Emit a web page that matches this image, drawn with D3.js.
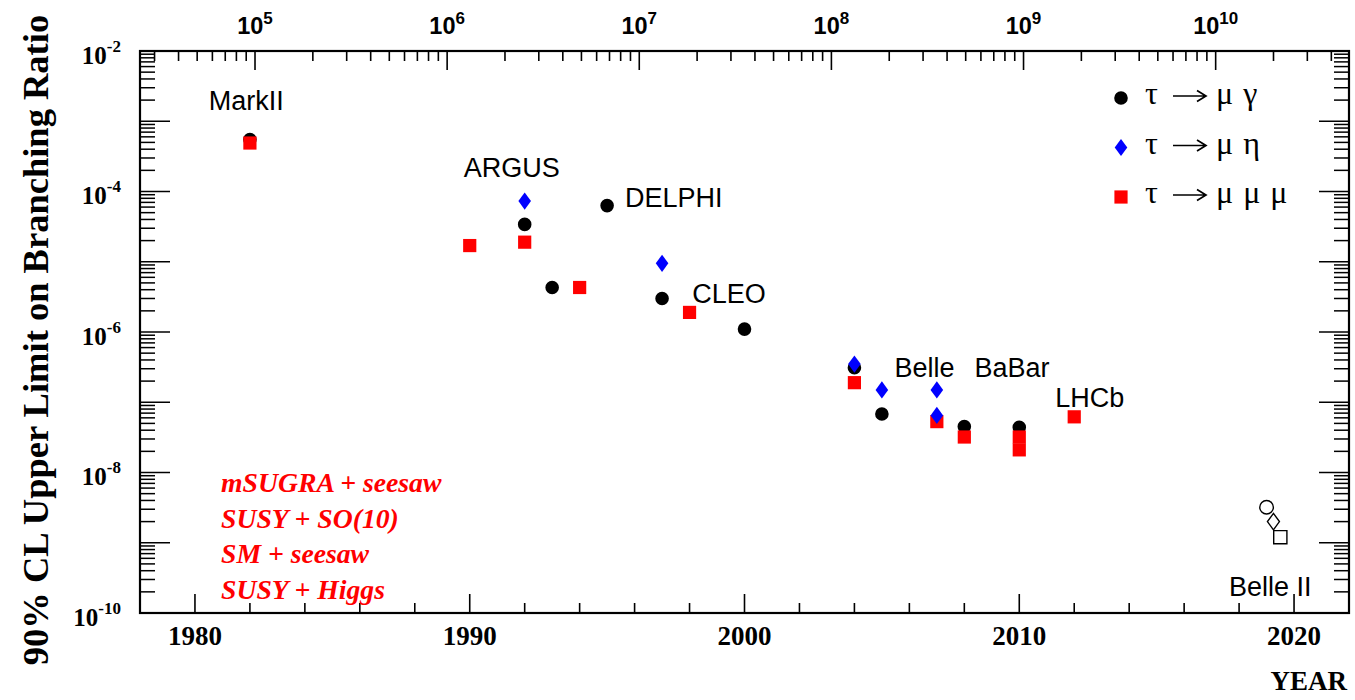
<!DOCTYPE html>
<html>
<head>
<meta charset="utf-8">
<script src="https://cdn.jsdelivr.net/npm/d3@7"></script>
<style>
  html, body { margin: 0; padding: 0; background: #fff; }
  svg { display: block; }
</style>
</head>
<body>
<svg id="chart" width="1355" height="700"></svg>
<script>
// tau -> mu gamma upper limits (90% CL)
const muGammaYears  = [1982, 1992, 1993, 1995, 1997, 2000, 2004, 2005, 2008, 2010];
const muGammaLimits = [5.5e-4, 3.4e-5, 4.3e-6, 6.3e-5, 3.0e-6, 1.1e-6, 3.1e-7, 6.8e-8, 4.5e-8, 4.4e-8];

// tau -> mu eta upper limits
const muEtaYears  = [1992, 1997, 2004, 2005, 2007, 2007];
const muEtaLimits = [7.3e-5, 9.5e-6, 3.5e-7, 1.5e-7, 1.5e-7, 6.5e-8];

// tau -> mu mu mu upper limits
const muMuMuYears  = [1982, 1990, 1992, 1994, 1998, 2004, 2007, 2008, 2010, 2010, 2012];
const muMuMuLimits = [4.9e-4, 1.7e-5, 1.9e-5, 4.3e-6, 1.9e-6, 1.9e-7, 5.3e-8, 3.2e-8, 3.2e-8, 2.1e-8, 6.2e-8];

// Belle II projected sensitivities (mu gamma, mu eta, mu mu mu)
const belle2Years  = [2019, 2019.25, 2019.5];
const belle2Limits = [3.2e-9, 2.0e-9, 1.2e-9];
const belle2Shapes = ["circle", "diamond", "square"];

// Experiment annotations, anchored in (year, branching ratio) coordinates
const expNames  = ["MarkII", "ARGUS", "DELPHI", "CLEO", "Belle", "BaBar", "LHCb", "Belle II"];
const expYears  = [1980.5, 1989.78, 1995.65, 1998.1, 2005.46, 2008.37, 2011.31, 2017.63];
const expLevels = [1.45e-3, 1.63e-4, 6.1e-5, 2.6e-6, 2.3e-7, 2.3e-7, 8.6e-8, 1.76e-10];

// Model predictions listed in the lower left
const modelNames = ["mSUGRA + seesaw", "SUSY + SO(10)", "SM + seesaw", "SUSY + Higgs"];

// Axis settings
const yearDomain  = [1978, 2022];
const yearMajor   = [1980, 1990, 2000, 2010, 2020];
const yearMinor   = d3.range(1982, 2020, 2).filter(y => y % 10 !== 0);
const brDomain    = [1e-10, 1e-2];
const brLabelExps = [-2, -4, -6, -8, -10];
const tauPairDomain = [Math.pow(10, 4.4014), Math.pow(10, 10.694)];
const tauPairLabelExps = [5, 6, 7, 8, 9, 10];

// Legend entries: parent, products
const legendParent   = ["\u03C4", "\u03C4", "\u03C4"];
const legendProducts = ["\u03BC \u03B3", "\u03BC \u03B7", "\u03BC \u03BC \u03BC"];

// ---------------------------------------------------------------------------
const svg = d3.select("#chart");
const L = 140, R = 1349, T = 51, B = 613;

const x = d3.scaleLinear().domain(yearDomain).range([L, R]);
const y = d3.scaleLog().domain(brDomain).range([B, T]);
const xTop = d3.scaleLog().domain(tauPairDomain).range([L, R]);

const serif = "'Liberation Serif', 'Times New Roman', Times, serif";
const sans  = "'Liberation Sans', Arial, Helvetica, sans-serif";

// marker shapes
const diamondType = {
  draw(ctx, size) {
    const w = 6.3, h = 8.6;
    ctx.moveTo(0, -h); ctx.lineTo(w, 0); ctx.lineTo(0, h); ctx.lineTo(-w, 0); ctx.closePath();
  }
};
const diamondOpenType = {
  draw(ctx, size) {
    const w = 6.0, h = 8.2;
    ctx.moveTo(0, -h); ctx.lineTo(w, 0); ctx.lineTo(0, h); ctx.lineTo(-w, 0); ctx.closePath();
  }
};
const circleType = {
  draw(ctx, size) { const r = 6.8; ctx.moveTo(r, 0); ctx.arc(0, 0, r, 0, 2 * Math.PI); }
};
const squareType = {
  draw(ctx, size) { const s = 6.6; ctx.rect(-s, -s, 2 * s, 2 * s); }
};
const shapeOf = { circle: circleType, diamond: diamondOpenType, square: squareType };

// ---------------------------------------------------------------------------
// Frame and ticks
const axes = svg.append("g").attr("stroke", "#000").attr("fill", "none");

// bottom year ticks (pointing up)
axes.selectAll("line.ymaj").data(yearMajor).join("line")
  .attr("x1", d => x(d)).attr("x2", d => x(d)).attr("y1", B).attr("y2", B - 19)
  .attr("stroke-width", 1.6);
axes.selectAll("line.ymin").data(yearMinor).join("line")
  .attr("x1", d => x(d)).attr("x2", d => x(d)).attr("y1", B).attr("y2", B - 10)
  .attr("stroke-width", 1.6);

// top tau-pair ticks (pointing down)
const topTicks = [];
for (let e = 4; e <= 10; e++) {
  for (let m = 1; m <= 9; m++) {
    const v = m * Math.pow(10, e);
    if (v >= tauPairDomain[0] && v <= tauPairDomain[1]) topTicks.push({ v, major: m === 1 });
  }
}
axes.selectAll("line.top").data(topTicks).join("line")
  .attr("x1", d => xTop(d.v)).attr("x2", d => xTop(d.v))
  .attr("y1", T).attr("y2", d => T + (d.major ? 19 : 10))
  .attr("stroke-width", 1.6);

// left and right log ticks
const brTicks = [];
for (let e = -10; e <= -2; e++) {
  for (let m = 1; m <= 9; m++) {
    const v = m * Math.pow(10, e);
    if (v >= brDomain[0] * 0.999 && v <= brDomain[1] * 1.001) brTicks.push({ v, major: m === 1 });
  }
}
axes.selectAll("line.left").data(brTicks).join("line")
  .attr("x1", L).attr("x2", d => L + (d.major ? 30 : 15))
  .attr("y1", d => y(d.v)).attr("y2", d => y(d.v))
  .attr("stroke-width", 1.5);
axes.selectAll("line.right").data(brTicks).join("line")
  .attr("x1", R).attr("x2", d => R - (d.major ? 30 : 15))
  .attr("y1", d => y(d.v)).attr("y2", d => y(d.v))
  .attr("stroke-width", 1.5);

axes.append("rect").attr("x", L).attr("y", T).attr("width", R - L).attr("height", B - T)
  .attr("stroke-width", 2.2);

// ---------------------------------------------------------------------------
// Tick labels
svg.append("g").selectAll("text").data(yearMajor).join("text")
  .attr("x", d => x(d)).attr("y", 645)
  .attr("text-anchor", "middle")
  .attr("font-family", serif).attr("font-weight", "bold").attr("font-size", 27)
  .text(d => d);

const yLab = svg.append("g").selectAll("text").data(brLabelExps).join("text")
  .attr("x", 121).attr("y", d => y(Math.pow(10, d)) + 12.5)
  .attr("text-anchor", "end")
  .attr("font-family", serif).attr("font-weight", "bold").attr("font-size", 25);
yLab.append("tspan").text("10");
yLab.append("tspan").attr("font-size", 17).attr("dy", -12).text(d => String(d));

const tLab = svg.append("g").selectAll("text").data(tauPairLabelExps).join("text")
  .attr("x", d => xTop(Math.pow(10, d))).attr("y", 33.5)
  .attr("text-anchor", "middle")
  .attr("font-family", sans).attr("font-weight", "bold").attr("font-size", 23.5);
tLab.append("tspan").text("10");
tLab.append("tspan").attr("font-size", 17).attr("dy", -10).text(d => String(d));

// Axis titles
svg.append("text")
  .attr("transform", `translate(48, ${(T + B) / 2 + 8}) rotate(-90)`)
  .attr("text-anchor", "middle")
  .attr("font-family", serif).attr("font-weight", "bold").attr("font-size", 36.5)
  .text("90% CL Upper Limit on Branching Ratio");

svg.append("text")
  .attr("x", 1347).attr("y", 690).attr("text-anchor", "end")
  .attr("font-family", serif).attr("font-weight", "bold").attr("font-size", 27)
  .text("YEAR");

// ---------------------------------------------------------------------------
// Data markers: circles first, then squares, diamonds on top
const pts = svg.append("g");
pts.selectAll("path.gamma").data(d3.zip(muGammaYears, muGammaLimits)).join("path")
  .attr("d", d3.symbol().type(circleType))
  .attr("transform", d => `translate(${x(d[0])},${y(d[1])})`)
  .attr("fill", "#000");
pts.selectAll("path.mumumu").data(d3.zip(muMuMuYears, muMuMuLimits)).join("path")
  .attr("d", d3.symbol().type(squareType))
  .attr("transform", d => `translate(${x(d[0])},${y(d[1])})`)
  .attr("fill", "#ff0000");
pts.selectAll("path.eta").data(d3.zip(muEtaYears, muEtaLimits)).join("path")
  .attr("d", d3.symbol().type(diamondType))
  .attr("transform", d => `translate(${x(d[0])},${y(d[1])})`)
  .attr("fill", "#0000ff");

// Belle II projections (open markers)
pts.selectAll("path.b2").data(d3.zip(belle2Years, belle2Limits, belle2Shapes)).join("path")
  .attr("d", d => d3.symbol().type(shapeOf[d[2]])())
  .attr("transform", d => `translate(${x(d[0])},${y(d[1])})`)
  .attr("fill", "#fff").attr("stroke", "#000").attr("stroke-width", 1.4);

// Experiment names
svg.append("g").selectAll("text").data(d3.zip(expNames, expYears, expLevels)).join("text")
  .attr("x", d => x(d[1])).attr("y", d => y(d[2]))
  .attr("font-family", sans).attr("font-size", 27).attr("fill", "#000")
  .text(d => d[0]);

// Model predictions
svg.append("g").selectAll("text").data(modelNames).join("text")
  .attr("x", 221).attr("y", (d, i) => 492 + i * 35.5)
  .attr("font-family", serif).attr("font-weight", "bold").attr("font-style", "italic")
  .attr("font-size", 27.7).attr("fill", "#ff0000")
  .text(d => d);

// ---------------------------------------------------------------------------
// Legend
const legendTypes = [circleType, diamondType, squareType];
const legendFills = ["#000", "#0000ff", "#ff0000"];
const leg = svg.append("g");
legendParent.forEach((p, i) => {
  const ly = 98 + i * 49.5;
  leg.append("path").attr("d", d3.symbol().type(legendTypes[i])())
    .attr("transform", `translate(1121,${ly})`).attr("fill", legendFills[i]);
  const t = leg.append("text").attr("y", ly + 6)
    .attr("font-family", serif).attr("font-size", 32).attr("fill", "#000");
  t.append("tspan").attr("x", 1145).text(p);
  // long arrow drawn as a path so its length matches the layout
  leg.append("path")
    .attr("d", `M1173,${ly - 2} H1205 M1197,${ly - 7.5} L1206,${ly - 2} L1197,${ly + 3.5}`)
    .attr("fill", "none").attr("stroke", "#000").attr("stroke-width", 1.7);
  leg.append("text").attr("x", 1216).attr("y", ly + 6)
    .attr("font-family", serif).attr("font-size", 32).attr("fill", "#000")
    .attr("word-spacing", 2)
    .text(legendProducts[i]);
});
</script>
</body>
</html>
